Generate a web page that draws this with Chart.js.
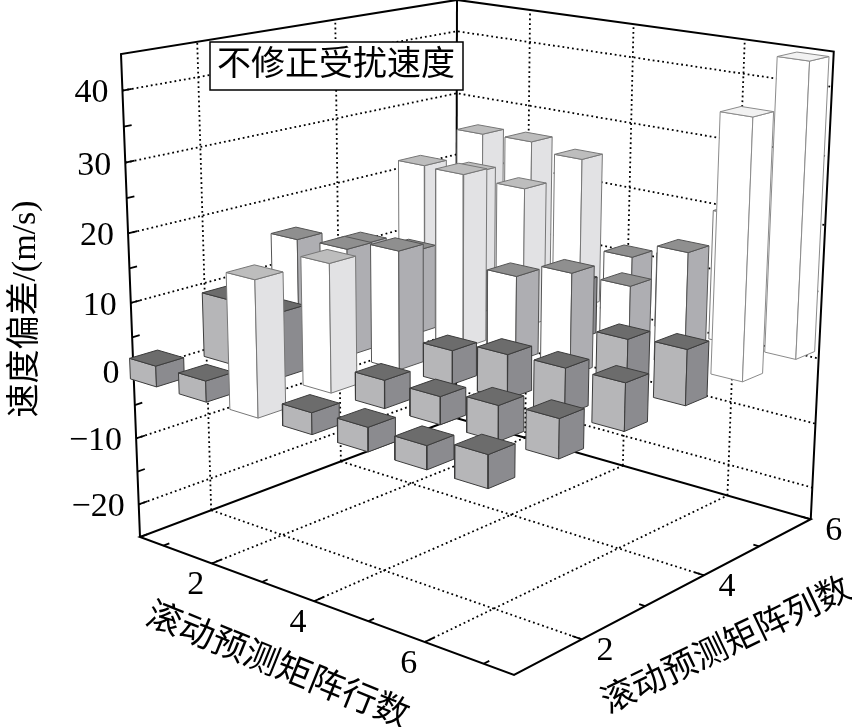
<!DOCTYPE html>
<html lang="zh-CN">
<head>
  <meta charset="UTF-8">
  <title>不修正受扰速度</title>
  <script src="https://cdn.jsdelivr.net/npm/chart.js"></script>
  <style>
    html, body { margin: 0; padding: 0; background: #fff; }
    canvas { display: block; }
  </style>
</head>
<body>
  <canvas id="myChart" width="852" height="727"></canvas>

  <script>
    // bar heights, one array per matrix row, index = matrix column - 1
    var row1 = [3.0, 9.5, 15.6, 12.2, 22.0, 24.8];
    var row2 = [3.0, 9.5, 15.9, 12.8, 22.4, 25.0];
    var row3 = [19.0, 18.4, 17.4, 26.0, 21.5, 23.7];
    var row4 = [3.0, 4.0, 4.9, 12.7, 8.7, 10.0];
    var row5 = [3.3, 3.9, 6.4, 15.0, 10.2, 11.5];
    var row6 = [3.2, 4.9, 6.6, 7.4, 17.0, 19.7];
    var row7 = [4.4, 5.4, 6.7, 8.0, 37.8, 43.7];
    var rowValues = [row1, row2, row3, row4, row5, row6, row7];

    var rowTicks = [1, 2, 3, 4, 5, 6, 7];
    var rowLabels = [2, 4, 6];
    var colTicks = [2, 3, 4, 5, 6];
    var colLabels = [2, 4, 6];
    var speedTicks = [-25, -20, -15, -10, -5, 0, 5, 10, 15, 20, 25, 30, 35, 40];
    var speedLabels = [-20, -10, 0, 10, 20, 30, 40];

    var rowRange = [0.5, 7.5];
    var colRange = [1, 6];
    var speedRange = [-25, 45];

    var chartTitle = '不修正受扰速度';
    var speedTitle = '速度偏差/(m/s)';
    var rowTitle = '滚动预测矩阵行数';
    var colTitle = '滚动预测矩阵列数';

    // where the box sits on the page, and how strong the perspective is along each axis
    var view = {
      origin: [140, 537], rowEnd: [514, 675], colEnd: [456, 418], speedEnd: [121, 54],
      rowK: 0.87, colK: 1.163, speedK: 0.94
    };
    var halfRow = 0.27, halfCol = 0.185;
    var SERIF = '"Liberation Serif", "Noto Sans CJK SC", serif';

    function project(row, col, speed) {
      var u = (row - rowRange[0]) / (rowRange[1] - rowRange[0]);
      var v = (col - colRange[0]) / (colRange[1] - colRange[0]);
      var w = (speed - speedRange[0]) / (speedRange[1] - speedRange[0]);
      var d = 1 + u * (view.rowK - 1) + v * (view.colK - 1) + w * (view.speedK - 1);
      function axis(i) {
        return (view.origin[i]
          + u * (view.rowK * view.rowEnd[i] - view.origin[i])
          + v * (view.colK * view.colEnd[i] - view.origin[i])
          + w * (view.speedK * view.speedEnd[i] - view.origin[i])) / d;
      }
      return { x: axis(0), y: axis(1) };
    }

    function barStyle(value) {
      if (value < 10) return { top: '#6c6c6c', left: '#b6b6b8', right: '#8b8b8f', edge: '#3c3c3c' };
      if (value < 18) return { top: '#8f8f8f', left: '#ffffff', right: '#aeaeb2', edge: '#555555' };
      if (value < 30) return { top: '#bdbdbd', left: '#ffffff', right: '#e2e2e4', edge: '#777777' };
      return { top: '#f2f2f2', left: '#ffffff', right: '#ffffff', edge: '#8a8a8a' };
    }

    var datasets = [];

    function addLine(points, color, width, dash) {
      datasets.push({
        data: points, showLine: true, fill: false, borderColor: color,
        borderWidth: width, borderDash: dash || [], pointRadius: 0
      });
    }

    function addFace(points, fillColor, edge) {
      datasets.push({
        data: points.concat([points[0]]), showLine: true, fill: 'shape',
        backgroundColor: fillColor, borderColor: edge, borderWidth: 1,
        borderJoinStyle: 'round', pointRadius: 0
      });
    }

    var rMin = rowRange[0], rMax = rowRange[1];
    var cMin = colRange[0], cMax = colRange[1];
    var sMin = speedRange[0], sMax = speedRange[1];
    var DOTS = [1.8, 3];

    // dotted grid on the floor and the two walls
    rowLabels.forEach(function (r) {
      addLine([project(r, cMin, sMin), project(r, cMax, sMin)], '#000', 1.8, DOTS);
      addLine([project(r, cMax, sMin), project(r, cMax, sMax)], '#000', 1.8, DOTS);
    });
    colLabels.forEach(function (c) {
      if (c === cMax) return;
      addLine([project(rMin, c, sMin), project(rMax, c, sMin)], '#000', 1.8, DOTS);
      addLine([project(rMin, c, sMin), project(rMin, c, sMax)], '#000', 1.8, DOTS);
    });
    speedLabels.forEach(function (s) {
      addLine([project(rMin, cMin, s), project(rMin, cMax, s), project(rMax, cMax, s)], '#000', 1.8, DOTS);
    });

    // box edges
    addLine([project(rMin, cMax, sMin), project(rMin, cMin, sMin), project(rMax, cMin, sMin),
             project(rMax, cMax, sMin), project(rMin, cMax, sMin)], '#000', 2);
    addLine([project(rMin, cMin, sMin), project(rMin, cMin, sMax), project(rMin, cMax, sMax),
             project(rMax, cMax, sMax), project(rMax, cMax, sMin)], '#000', 2);
    addLine([project(rMin, cMax, sMin), project(rMin, cMax, sMax)], '#000', 2);

    // tick marks point into the floor / wall
    rowTicks.forEach(function (r) {
      var len = rowLabels.indexOf(r) >= 0 ? 0.13 : 0.08;
      addLine([project(r, cMin, sMin), project(r, cMin + len, sMin)], '#000', 1.8);
    });
    colTicks.forEach(function (c) {
      var len = colLabels.indexOf(c) >= 0 ? 0.16 : 0.1;
      addLine([project(rMax, c, sMin), project(rMax - len, c, sMin)], '#000', 1.8);
    });
    speedTicks.forEach(function (s) {
      var len = speedLabels.indexOf(s) >= 0 ? 0.12 : 0.1;
      addLine([project(rMin, cMin, s), project(rMin, cMin + len, s)], '#000', 1.8);
    });

    // bars, back corner first so nearer ones paint over them
    rowValues.forEach(function (values, i) {
      for (var j = values.length - 1; j >= 0; j--) {
        var r = rowTicks[i], c = j + 1, top = values[j], st = barStyle(top);
        addFace([project(r - halfRow, c - halfCol, 0), project(r + halfRow, c - halfCol, 0),
                 project(r + halfRow, c - halfCol, top), project(r - halfRow, c - halfCol, top)], st.left, st.edge);
        addFace([project(r + halfRow, c - halfCol, 0), project(r + halfRow, c + halfCol, 0),
                 project(r + halfRow, c + halfCol, top), project(r + halfRow, c - halfCol, top)], st.right, st.edge);
        addFace([project(r - halfRow, c - halfCol, top), project(r + halfRow, c - halfCol, top),
                 project(r + halfRow, c + halfCol, top), project(r - halfRow, c + halfCol, top)], st.top, st.edge);
      }
    });

    // chart.js paints the first dataset last
    datasets.reverse();

    function rotatedText(ctx, text, x, y, deg, font) {
      ctx.save();
      ctx.translate(x, y);
      ctx.rotate(deg * Math.PI / 180);
      ctx.font = font;
      ctx.textAlign = 'center';
      ctx.textBaseline = 'middle';
      ctx.fillStyle = '#000';
      ctx.fillText(text, 0, 0);
      ctx.restore();
    }

    var textPlugin = {
      id: 'textPlugin',
      afterDraw: function (chart) {
        var ctx = chart.ctx, sx = chart.scales.x, sy = chart.scales.y;
        var tickFont = '34px ' + SERIF;
        function page(p) { return { x: sx.getPixelForValue(p.x), y: sy.getPixelForValue(p.y) }; }

        ctx.save();
        ctx.font = tickFont;
        ctx.fillStyle = '#000';
        ctx.textBaseline = 'middle';
        ctx.textAlign = 'right';
        speedLabels.forEach(function (s) {
          var p = page(project(rMin, cMin, s));
          ctx.fillText(String(s).replace('-', '\u2212'), p.x - 14, p.y + 3);
        });
        ctx.textAlign = 'center';
        rowLabels.forEach(function (r) {
          var p = page(project(r, cMin, sMin));
          ctx.fillText(String(r), p.x - 16, p.y + 22);
        });
        colLabels.forEach(function (c) {
          var p = page(project(rMax, c, sMin));
          ctx.fillText(String(c), p.x + 23, p.y + 12);
        });

        // title box
        ctx.fillStyle = '#fff';
        ctx.fillRect(210, 42, 253, 48);
        ctx.strokeStyle = '#000';
        ctx.lineWidth = 1.5;
        ctx.strokeRect(210, 42, 253, 48);
        ctx.restore();

        rotatedText(ctx, chartTitle, 336, 66, 0, '34px ' + SERIF);
        rotatedText(ctx, speedTitle, 26, 309, -90, '34px ' + SERIF);
        rotatedText(ctx, rowTitle, 277, 667, 22, '35px ' + SERIF);
        rotatedText(ctx, colTitle, 727, 647, -25.6, '34px ' + SERIF);
      }
    };

    new Chart(document.getElementById('myChart').getContext('2d'), {
      type: 'scatter',
      data: { datasets: datasets },
      options: {
        responsive: false,
        animation: false,
        layout: { padding: 0 },
        plugins: { legend: { display: false }, tooltip: { enabled: false } },
        scales: {
          x: { type: 'linear', display: false, min: 0, max: 852 },
          y: { type: 'linear', display: false, min: 0, max: 727, reverse: true }
        }
      },
      plugins: [textPlugin]
    });
  </script>
</body>
</html>
